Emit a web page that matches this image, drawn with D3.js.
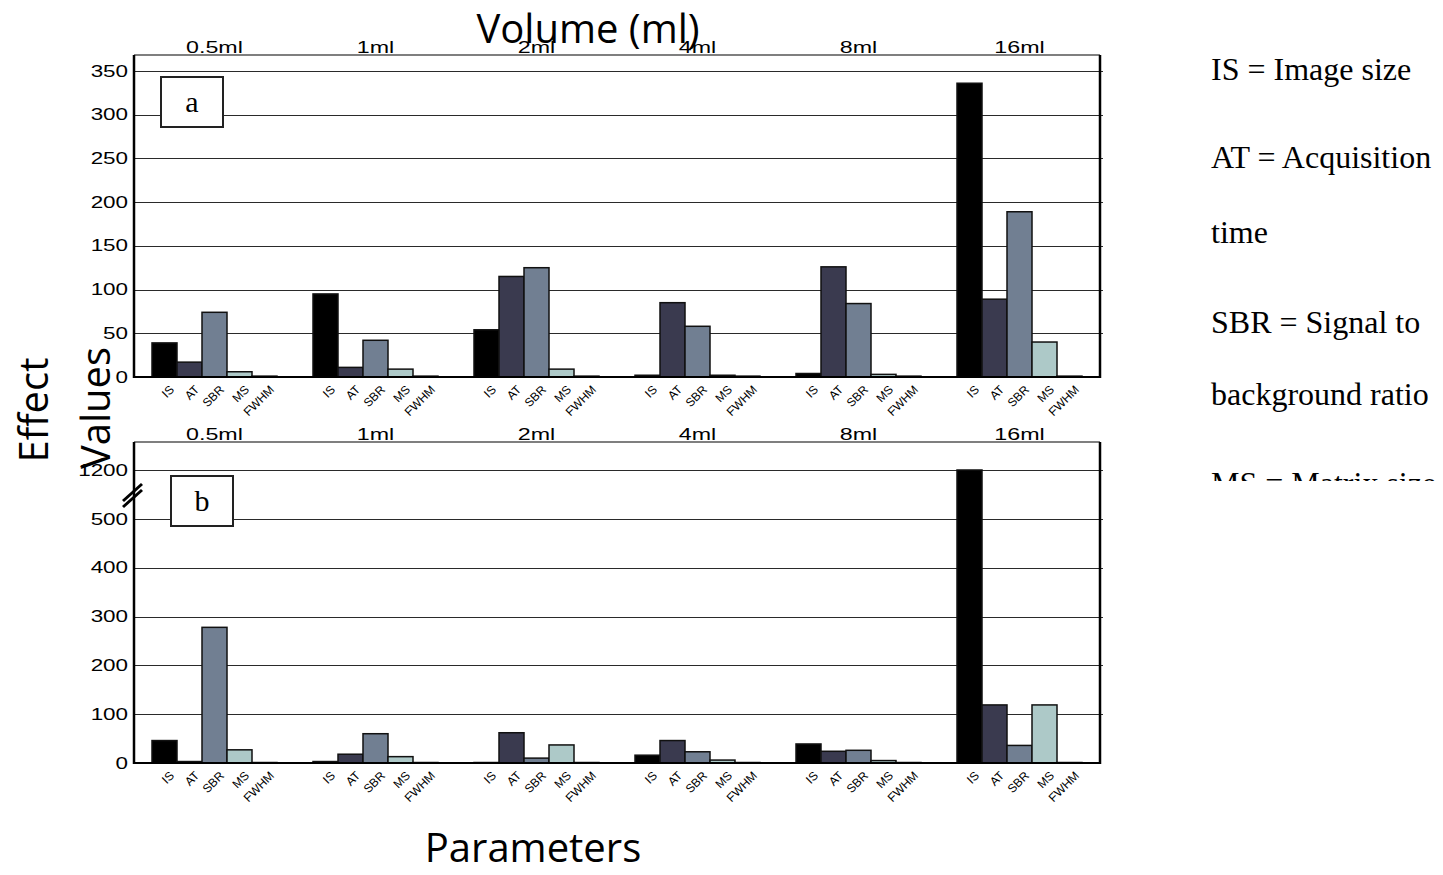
<!DOCTYPE html>
<html>
<head>
<meta charset="utf-8">
<script src="https://cdn.jsdelivr.net/npm/d3@7"></script>
<style>
  html, body { margin: 0; padding: 0; background: #fff; }
  svg { display: block; }
</style>
</head>
<body>
<div id="chart"></div>
<script>
// data
const volumes = ['0.5ml', '1ml', '2ml', '4ml', '8ml', '16ml'];
const params = ['IS', 'AT', 'SBR', 'MS', 'FWHM'];

// panel a: one row per volume, values in params order
const valuesA = [
  [39, 17, 74, 6, 1],
  [95, 11, 42, 9, 1],
  [54, 115, 125, 9, 1],
  [2, 85, 58, 2, 1],
  [4, 126, 84, 3, 1],
  [336, 89, 189, 40, 1],
];
// panel b
const valuesB = [
  [46, 3, 278, 27, 1],
  [3, 18, 60, 13, 1],
  [1, 62, 10, 37, 1],
  [16, 46, 23, 6, 1],
  [39, 24, 26, 5, 1],
  [1200, 119, 36, 119, 1],
];

const ticksA = [0, 50, 100, 150, 200, 250, 300, 350];
const ticksB = [0, 100, 200, 300, 400, 500, 1200];

const legendLines = [
  'IS = Image size',
  'AT = Acquisition',
  'time',
  'SBR = Signal to',
  'background ratio',
  'MS = Matrix size',
];

const colors = ['#000000', '#3a3a4f', '#717f92', '#adc9c8', '#dce6e6'];

const W = 1443, H = 875;
const left = 134, right = 1100;

const svg = d3.select('#chart').append('svg')
  .attr('width', W).attr('height', H);

const x = d3.scaleBand().domain(volumes).range([left, right]);
const sub = d3.scaleBand().domain(params)
  .range([0, x.bandwidth()]).paddingInner(0).paddingOuter(0.72);

const tickFont = '"Liberation Sans", Arial, sans-serif';

// widen text like the original wide helvetica
function stretch(sel, k) {
  sel.each(function () {
    const len = this.getComputedTextLength();
    d3.select(this).attr('textLength', len * k).attr('lengthAdjust', 'spacingAndGlyphs');
  });
}

function panel(values, y, ticks, top, label, labelBox) {
  const zero = y(0);
  const g = svg.append('g');

  // gridlines
  g.append('g')
    .selectAll('line')
    .data(ticks.filter(d => d > 0))
    .join('line')
    .attr('x1', left).attr('x2', right + 3)
    .attr('y1', d => Math.round(y(d)) + 0.5).attr('y2', d => Math.round(y(d)) + 0.5)
    .attr('stroke', '#2a2a2a').attr('stroke-width', 1);

  // top edge of frame
  g.append('line')
    .attr('x1', left).attr('x2', right)
    .attr('y1', top).attr('y2', top)
    .attr('stroke', '#555').attr('stroke-width', 1.5);

  // y axis labels
  const ax = g.append('g')
    .attr('transform', `translate(${left},0)`)
    .call(d3.axisLeft(y).tickValues(ticks).tickFormat(d3.format('d')).tickSize(0).tickPadding(6));
  ax.select('.domain').remove();
  ax.selectAll('text')
    .attr('font-family', tickFont).attr('font-size', 16).attr('fill', '#000')
    .call(stretch, 1.4);

  // bars
  const groups = g.selectAll('.grp')
    .data(values)
    .join('g')
    .attr('class', 'grp')
    .attr('transform', (d, i) => `translate(${x(volumes[i])},0)`);

  groups.selectAll('rect')
    .data(d => d.map((v, j) => ({ v, p: params[j], j })))
    .join('rect')
    .attr('x', d => sub(d.p))
    .attr('y', d => y(d.v))
    .attr('width', sub.bandwidth())
    .attr('height', d => zero - y(d.v))
    .attr('fill', d => colors[d.j])
    .attr('stroke', '#111')
    .attr('stroke-width', 1.5);

  // parameter labels under each bar
  groups.selectAll('text.par')
    .data(params)
    .join('text')
    .attr('class', 'par')
    .attr('transform', d => `translate(${sub(d) + sub.bandwidth() / 2 + 4},${zero + 7}) rotate(-45)`)
    .attr('text-anchor', 'end')
    .attr('dy', '0.75em')
    .attr('font-family', tickFont).attr('font-size', 12)
    .text(d => d);

  // volume labels above frame
  g.selectAll('text.vol')
    .data(volumes)
    .join('text')
    .attr('class', 'vol')
    .attr('x', d => x(d) + sub(params[2]) + sub.bandwidth() / 2)
    .attr('y', top - 2)
    .attr('text-anchor', 'middle')
    .attr('font-family', tickFont).attr('font-size', 16)
    .text(d => d)
    .call(stretch, 1.45);

  // axis lines
  g.append('line')
    .attr('x1', left).attr('x2', left).attr('y1', top).attr('y2', zero + 1)
    .attr('stroke', '#000').attr('stroke-width', 2.5);
  g.append('line')
    .attr('x1', right).attr('x2', right).attr('y1', top).attr('y2', zero + 1)
    .attr('stroke', '#000').attr('stroke-width', 2.5);
  g.append('line')
    .attr('x1', left).attr('x2', right + 1).attr('y1', zero).attr('y2', zero)
    .attr('stroke', '#000').attr('stroke-width', 2);

  // panel tag
  g.append('rect')
    .attr('x', labelBox[0]).attr('y', labelBox[1])
    .attr('width', 62).attr('height', 50)
    .attr('fill', '#fff').attr('stroke', '#222').attr('stroke-width', 2);
  g.append('text')
    .attr('x', labelBox[0] + 31).attr('y', labelBox[1] + 35)
    .attr('text-anchor', 'middle')
    .attr('font-family', '"Liberation Serif", "Times New Roman", serif')
    .attr('font-size', 30)
    .text(label);

  return g;
}

const yA = d3.scaleLinear().domain([0, 350]).range([377, 71]);
// broken axis: 0-500 linear, then 500-1200 squeezed into one step
const yB = d3.scaleLinear().domain([0, 500, 1200]).range([763, 519, 470]);

panel(valuesA, yA, ticksA, 55, 'a', [161, 77]);
const gB = panel(valuesB, yB, ticksB, 442, 'b', [171, 476]);

// break marks on the lower y axis
gB.selectAll('line.brk')
  .data([0, 6])
  .join('line')
  .attr('class', 'brk')
  .attr('x1', left - 11).attr('x2', left + 8)
  .attr('y1', d => 507 - d).attr('y2', d => 490 - d)
  .attr('stroke', '#000').attr('stroke-width', 3);

// titles
const bigFont = '"Open Sans", "Noto Sans", sans-serif';
svg.append('text')
  .attr('x', 588).attr('y', 43)
  .attr('text-anchor', 'middle')
  .attr('font-family', bigFont).attr('font-size', 40)
  .text('Volume (ml)');

svg.append('text')
  .attr('x', 533).attr('y', 862)
  .attr('text-anchor', 'middle')
  .attr('font-family', bigFont).attr('font-size', 40)
  .text('Parameters');

svg.append('text')
  .attr('transform', 'translate(48,410) rotate(-90)')
  .attr('text-anchor', 'middle')
  .attr('font-family', bigFont).attr('font-size', 40)
  .text('Effect');
svg.append('text')
  .attr('transform', 'translate(110,408) rotate(-90)')
  .attr('text-anchor', 'middle')
  .attr('font-family', bigFont).attr('font-size', 40)
  .text('Values');

// legend text on the right, cut off at the bottom like the original
svg.append('clipPath').attr('id', 'legclip')
  .append('rect').attr('x', 1180).attr('y', 0).attr('width', 263).attr('height', 481);

const legendY = [80, 168, 243, 333, 405, 494];
svg.append('g').attr('clip-path', 'url(#legclip)')
  .selectAll('text')
  .data(legendLines)
  .join('text')
  .attr('x', 1211)
  .attr('y', (d, i) => legendY[i])
  .attr('font-family', '"Liberation Serif", "Times New Roman", serif')
  .attr('font-size', 32)
  .text(d => d);
</script>
</body>
</html>
